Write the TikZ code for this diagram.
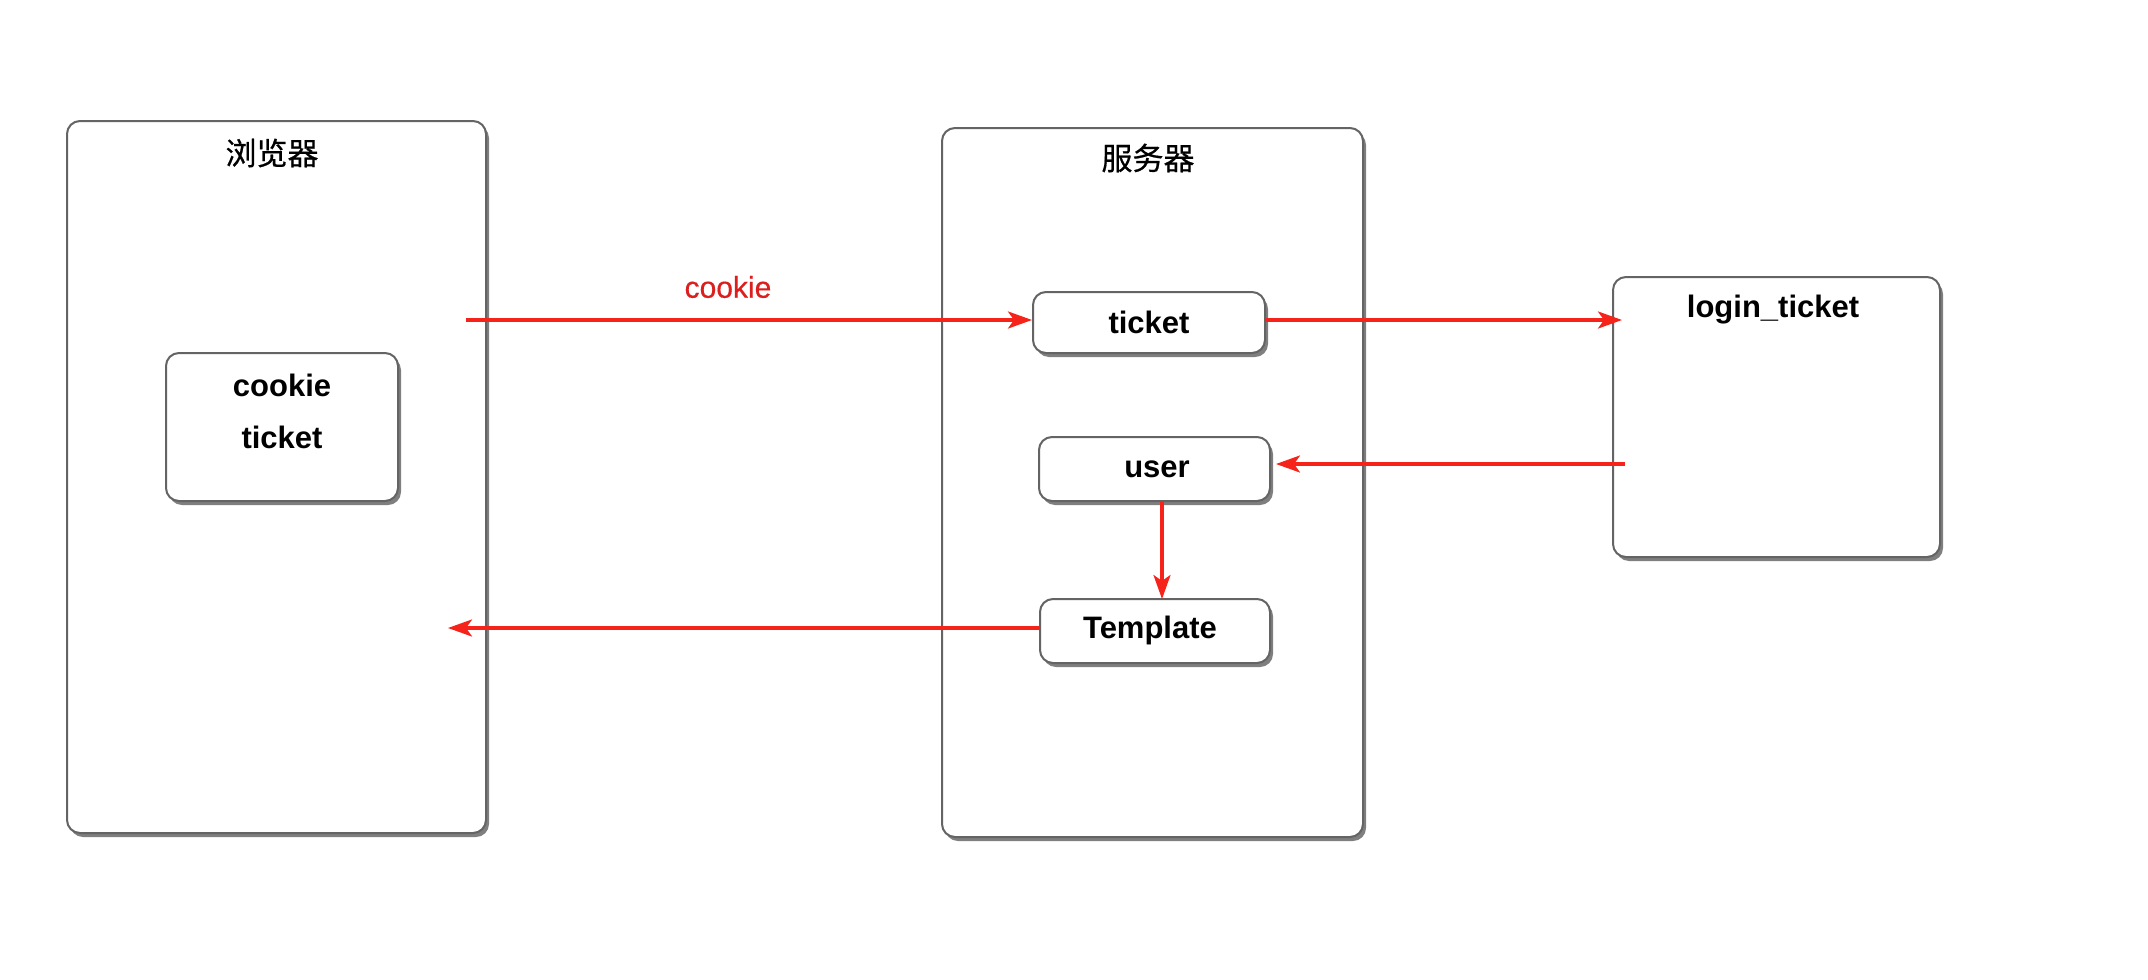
\documentclass[tikz,border=0pt]{standalone}
\usepackage{fontspec}
\setmainfont{Liberation Sans}
\newfontfamily\cjk[FakeBold=0.6]{Noto Sans CJK SC}
\newfontfamily\redlblfont[FakeBold=0.5]{Liberation Sans}
\usetikzlibrary{arrows.meta,shadows}
\definecolor{arrowred}{RGB}{245,35,25}
\definecolor{labelred}{RGB}{220,30,30}
\definecolor{boxgray}{RGB}{100,100,100}
\tikzset{
  box/.style={draw=boxgray, line width=2pt, fill=white, rounded corners=13pt,
    drop shadow={shadow xshift=3pt, shadow yshift=-4pt, fill=black, opacity=0.5},
    inner sep=0pt},
  lbl/.style={font=\fontsize{31}{37}\selectfont\bfseries, inner sep=0pt, anchor=center},
  cjklbl/.style={font=\fontsize{31}{37}\selectfont\cjk, inner sep=0pt, anchor=center},
  conn/.style={draw=arrowred, line width=3.2pt,
    -{Stealth[length=24pt, width=17pt, inset=6pt]}},
}
\begin{document}
\begin{tikzpicture}[x=1pt, y=-1pt]
\useasboundingbox[fill=white] (0,0) rectangle (2148,980);

% large containers
\node[box, minimum width=419pt, minimum height=712pt] (browser) at (276.5,477) {};
\node[box, minimum width=421pt, minimum height=709pt] (server) at (1152.5,482.5) {};
\node[box, minimum width=327pt, minimum height=280pt] (login) at (1776.5,417) {};

% titles
\node[cjklbl] (browsertitle) at (272,153) {浏览器};
\node[cjklbl] (servertitle) at (1148,158) {服务器};
\node[lbl] (logintitle) at (1773,310) {login\_ticket};

% browser inner box
\node[box, minimum width=232pt, minimum height=148pt] (cookiebox) at (282,427) {};
\node[lbl] (cookietext) at (282,385) {cookie};
\node[lbl] (tickettext) at (282,437) {ticket};

% server inner boxes
\node[box, minimum width=232pt, minimum height=61pt] (ticket) at (1149,322.5) {};
\node[lbl] (ticketlabel) at (1149,322) {ticket};
\node[box, minimum width=231pt, minimum height=64pt] (user) at (1154.5,469) {};
\node[lbl] (userlabel) at (1157,469) {user};
\node[box, minimum width=230pt, minimum height=64pt] (template) at (1155,631) {};
\node[lbl] (templatelabel) at (1150,630) {Template};

% connector end points
\coordinate (c1) at (466,320);
\coordinate (c2) at (1622,320);
\coordinate (c3) at (1625,464);
\coordinate (c4) at (1276,464);
\coordinate (c5) at (1162,501);
\coordinate (c6) at (1162,599);
\coordinate (c7) at (1040,628);
\coordinate (c8) at (448,628);

% connectors
\draw[conn] (c1) -- (c1 -| ticket.west);
\draw[conn] (ticket.east |- c2) -- (c2);
\draw[conn] (c3) -- (c4);
\draw[conn] (c5) -- (c6);
\draw[conn] (c7) -- (c8);

% connector label
\node[font=\fontsize{30}{36}\selectfont\redlblfont, text=labelred, inner sep=0pt] (cookielabel) at (728,287) {cookie};
\end{tikzpicture}
\end{document}
